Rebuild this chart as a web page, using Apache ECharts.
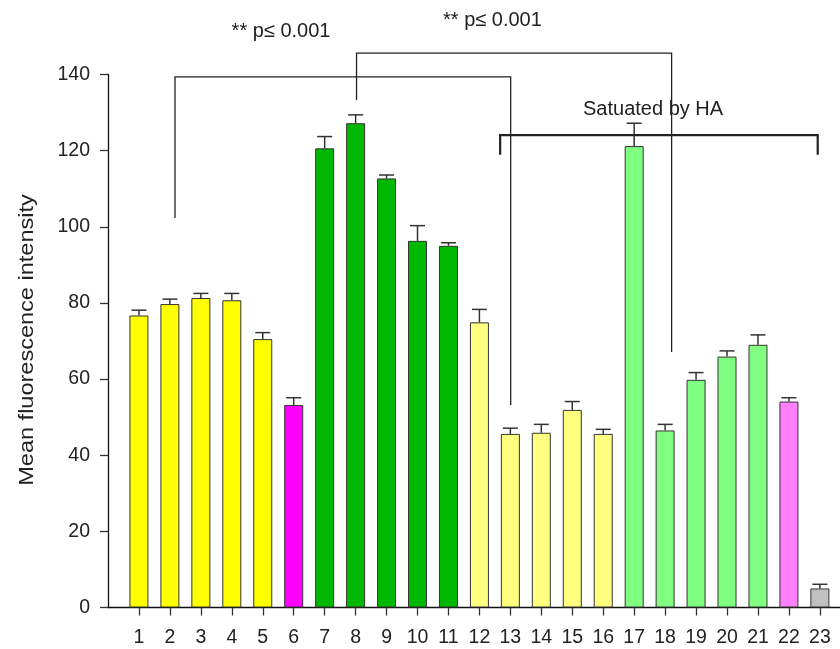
<!DOCTYPE html>
<html>
<head>
<meta charset="utf-8">
<script src="https://cdn.jsdelivr.net/npm/echarts@6/dist/echarts.min.js"></script>
<style>
  html, body { margin: 0; padding: 0; background: #fff; }
  #chart { width: 840px; height: 649px; }
</style>
</head>
<body>
<div id="chart"></div>
<script>
// Sample groups 1..23
const categories = [1, 2, 3, 4, 5, 6, 7, 8, 9, 10, 11, 12, 13, 14, 15, 16, 17, 18, 19, 20, 21, 22, 23];
// Mean fluorescence intensity per group
const meanValues = [76.7, 79.7, 81.3, 80.7, 70.5, 53.2, 120.6, 127.2, 112.7, 96.3, 95.0, 74.9,
                    45.6, 45.9, 51.9, 45.6, 121.2, 46.5, 59.8, 65.9, 69.0, 54.1, 5.0];
// Upper error (SEM) per group
const errorValues = [1.4, 1.3, 1.2, 1.8, 1.7, 1.9, 3.1, 2.2, 0.9, 4.0, 0.8, 3.4,
                     1.5, 2.2, 2.2, 1.2, 6.0, 1.6, 1.9, 1.5, 2.6, 1.0, 1.1];
const barColors = ['#ffff00', '#ffff00', '#ffff00', '#ffff00', '#ffff00', '#ff00ff',
                   '#00b800', '#00b800', '#00b800', '#00b800', '#00b800',
                   '#ffff80', '#ffff80', '#ffff80', '#ffff80', '#ffff80',
                   '#80ff80', '#80ff80', '#80ff80', '#80ff80', '#80ff80',
                   '#ff80ff', '#c0c0c0'];
const yTicks = [0, 20, 40, 60, 80, 100, 120, 140];

// Significance brackets: [fromX, toX, topY, leftEndY, rightEndY, lineWidth]
const bracketFrom = [2.165, 8.03, 12.67];
const bracketTo = [13.01, 18.21, 22.93];
const bracketTop = [139.4, 145.6, 124.1];
const bracketLeftEnd = [102.3, 133.3, 118.9];
const bracketRightEnd = [53.2, 67.1, 118.9];
const bracketWidth = [1.3, 1.3, 2.2];

// Annotation texts and their anchor (data space)
const noteTexts = ['** p\u2264 0.001', '** p\u2264 0.001', 'Satuated by HA'];
const noteX = [5.59, 12.42, 17.61];
const noteY = [151.2, 154.1, 130.9];

const FONT = 'Liberation Sans, Arial, Helvetica, sans-serif';
const INK = '#222';

const chart = echarts.init(document.getElementById('chart'), null, { renderer: 'canvas' });

const barData = categories.map((c, i) => ({
  value: [c, meanValues[i]],
  itemStyle: { color: barColors[i] }
}));
const errData = categories.map((c, i) => [c, meanValues[i], errorValues[i]]);
const bracketData = bracketFrom.map((f, i) =>
  [f, bracketTo[i], bracketTop[i], bracketLeftEnd[i], bracketRightEnd[i], bracketWidth[i]]);
const noteData = noteTexts.map((t, i) => ({ name: t, value: [noteX[i], noteY[i]] }));

chart.setOption({
  animation: false,
  backgroundColor: '#fff',
  grid: { left: 108, right: 0, top: 74.5, bottom: 41.5, containLabel: false },
  xAxis: {
    type: 'value',
    min: 0,
    max: 23.65,
    splitLine: { show: false },
    axisLine: { show: true, onZero: true, lineStyle: { color: '#111', width: 1.3 } },
    axisTick: { show: true, length: 8, customValues: categories, lineStyle: { color: '#333', width: 1.3 } },
    axisLabel: {
      show: true, customValues: categories, margin: 20,
      color: INK, fontSize: 19.5, fontFamily: FONT
    }
  },
  yAxis: {
    type: 'value',
    min: 0,
    max: 140,
    interval: 20,
    splitLine: { show: false },
    axisLine: { show: true, lineStyle: { color: '#111', width: 1.3 } },
    axisTick: { show: true, length: 8, customValues: yTicks, lineStyle: { color: '#333', width: 1.3 } },
    axisLabel: { margin: 18, color: INK, fontSize: 19.5, fontFamily: FONT, customValues: yTicks }
  },
  graphic: [{
    type: 'text',
    x: 27,
    y: 340,
    rotation: Math.PI / 2,
    scaleX: 1.12,
    style: {
      text: 'Mean fluorescence intensity',
      fontSize: 21,
      fontFamily: FONT,
      fill: INK,
      align: 'center',
      verticalAlign: 'middle'
    }
  }],
  series: [
    {
      type: 'bar',
      data: barData,
      barWidth: 19,
      itemStyle: { borderColor: '#333', borderWidth: 1 },
      z: 2
    },
    {
      type: 'custom',
      data: errData,
      encode: { x: 0, y: 1 },
      clip: false,
      z: 3,
      renderItem(params, api) {
        const x = api.value(0), m = api.value(1), e = api.value(2);
        const base = api.coord([x, m]);
        const top = api.coord([x, m + e]);
        const st = { stroke: '#333', lineWidth: 1.5 };
        return {
          type: 'group',
          children: [
            { type: 'line', shape: { x1: base[0], y1: base[1], x2: top[0], y2: top[1] }, style: st },
            { type: 'line', shape: { x1: top[0] - 7.5, y1: top[1], x2: top[0] + 7.5, y2: top[1] }, style: st }
          ]
        };
      }
    },
    {
      type: 'custom',
      data: bracketData,
      encode: { x: [0, 1], y: [2, 3, 4] },
      clip: false,
      z: 4,
      renderItem(params, api) {
        const f = api.value(0), t = api.value(1), top = api.value(2);
        const le = api.value(3), re = api.value(4), w = api.value(5);
        const pts = [api.coord([f, le]), api.coord([f, top]), api.coord([t, top]), api.coord([t, re])];
        return {
          type: 'polyline',
          shape: { points: pts },
          style: { stroke: '#222', lineWidth: w, fill: null }
        };
      }
    },
    {
      type: 'custom',
      data: noteData,
      encode: { x: 0, y: 1 },
      clip: false,
      z: 5,
      renderItem(params, api) {
        const p = api.coord([api.value(0), api.value(1)]);
        return {
          type: 'text',
          x: p[0],
          y: p[1],
          style: {
            text: noteTexts[params.dataIndex],
            fontSize: 20,
            fontFamily: FONT,
            fill: INK,
            align: 'center',
            verticalAlign: 'middle'
          }
        };
      }
    }
  ]
});
</script>
</body>
</html>
